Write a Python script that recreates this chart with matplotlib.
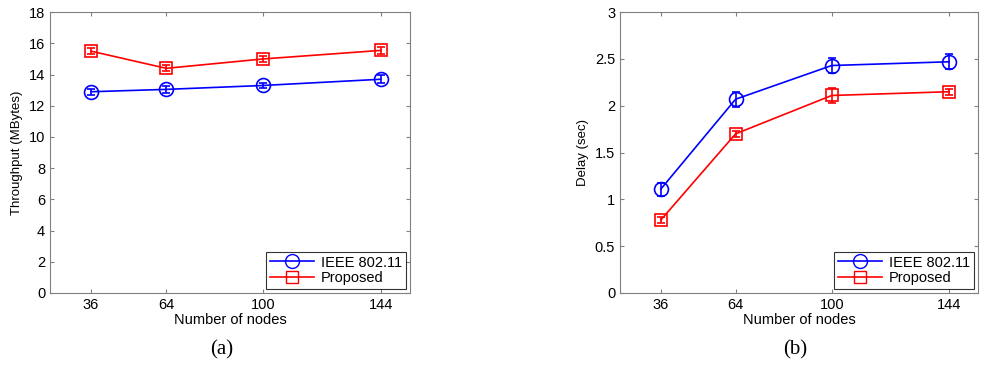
import matplotlib
matplotlib.use("Agg")
import matplotlib.pyplot as plt
from matplotlib.lines import Line2D

nodes = [36, 64, 100, 144]

thr_ieee = [12.9, 13.05, 13.3, 13.7]
thr_ieee_err = [0.2, 0.2, 0.15, 0.25]
thr_prop = [15.5, 14.4, 15.0, 15.55]
thr_prop_err = [0.2, 0.2, 0.2, 0.2]

delay_ieee = [1.11, 2.07, 2.43, 2.47]
delay_ieee_err = [0.07, 0.08, 0.08, 0.08]
delay_prop = [0.78, 1.70, 2.11, 2.15]
delay_prop_err = [0.03, 0.03, 0.08, 0.03]

plt.rcParams['font.family'] = ['Liberation Sans', 'DejaVu Sans']

fig = plt.figure(figsize=(10, 3.8), dpi=100)
ax1 = fig.add_axes([0.05, 0.229, 0.36, 0.739])
ax2 = fig.add_axes([0.62, 0.229, 0.358, 0.739])


def draw(ax, ieee, ieee_err, prop, prop_err, ylim, yticks, ylabel, yfmt):
  ax.errorbar(nodes, ieee, yerr=ieee_err, color='blue', marker='o', ms=10,
              mfc='none', mew=1.2, lw=1.2, capsize=3)
  ax.errorbar(nodes, prop, yerr=prop_err, color='red', marker='s', ms=8,
              mfc='none', mew=1.2, lw=1.2, capsize=3)
  ax.set_xlim(20.7, 154.8)
  ax.set_ylim(*ylim)
  ax.set_xticks(nodes)
  ax.set_yticks(yticks)
  ax.set_yticklabels([yfmt(v) for v in yticks])
  for s in ax.spines.values():
    s.set_color('#808080')
  ax.tick_params(direction='in', top=True, right=True, labelsize=10.5,
                 length=3, color='#808080')
  ax.set_xlabel('Number of nodes', fontsize=10.5, labelpad=1)
  ax.set_ylabel(ylabel, fontsize=9.5)
  handles = [
    Line2D([], [], color='blue', marker='o', ms=10, mfc='none', lw=1.2),
    Line2D([], [], color='red', marker='s', ms=8, mfc='none', lw=1.2),
  ]
  leg = ax.legend(handles, ['IEEE 802.11', 'Proposed'], loc='lower right',
                  fontsize=10.5, fancybox=False, edgecolor='black',
                  borderaxespad=0.3, handlelength=3, borderpad=0.25,
                  labelspacing=0.1, handletextpad=0.5)
  leg.get_frame().set_linewidth(0.8)


draw(ax1, thr_ieee, thr_ieee_err, thr_prop, thr_prop_err, (0, 18),
     list(range(0, 19, 2)), 'Throughput (MBytes)', lambda v: str(v))
draw(ax2, delay_ieee, delay_ieee_err, delay_prop, delay_prop_err, (0, 3),
     [0, 0.5, 1, 1.5, 2, 2.5, 3], 'Delay (sec)', lambda v: f'{v:g}')

fig.text(0.222, 0.08, '(a)', ha='center', va='center', fontsize=15,
         family='Liberation Serif')
fig.text(0.795, 0.08, '(b)', ha='center', va='center', fontsize=15,
         family='Liberation Serif')

fig.savefig('out.png', dpi=100)
